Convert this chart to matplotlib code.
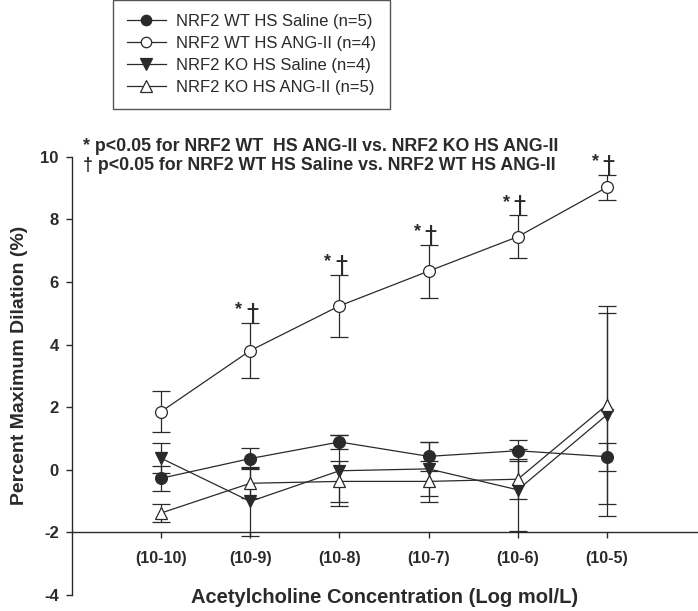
import matplotlib
matplotlib.use('Agg')
import matplotlib.pyplot as plt
from matplotlib.lines import Line2D
import numpy as np

plt.rcParams['font.family'] = ['Liberation Sans', 'DejaVu Sans']
plt.rcParams['axes.unicode_minus'] = False

conc = ['(10-10)', '(10-9)', '(10-8)', '(10-7)', '(10-6)', '(10-5)']

wt_saline = [-0.27, 0.36, 0.89, 0.43, 0.61, 0.42]
wt_saline_err = [0.40, 0.34, 0.22, 0.47, 0.34, 0.45]

wt_ang = [1.86, 3.81, 5.24, 6.35, 7.45, 9.03]
wt_ang_err = [0.65, 0.88, 1.00, 0.85, 0.68, 0.40]

ko_saline = [0.37, -1.01, -0.03, 0.03, -0.64, 1.76]
ko_saline_err = [0.48, 1.10, 1.14, 0.86, 1.32, 3.25]

ko_ang = [-1.38, -0.43, -0.37, -0.37, -0.30, 2.08]
ko_ang_err = [0.28, 0.48, 0.66, 0.65, 0.64, 3.17]

labels = ['NRF2 WT HS Saline (n=5)', 'NRF2 WT HS ANG-II (n=4)',
          'NRF2 KO HS Saline (n=4)', 'NRF2 KO HS ANG-II (n=5)']

# points with significance marks (index into conc)
sig_idx = [1, 2, 3, 4, 5]

dark = '#2a2a2a'

fig = plt.figure(figsize=(6.98, 6.11), dpi=100)
ax = fig.add_axes([0.103, 0.0262, 0.897, 0.717])

x = np.arange(len(conc))
series = [
    (wt_saline, wt_saline_err, 'o', dark, 8.5),
    (wt_ang, wt_ang_err, 'o', 'white', 8.5),
    (ko_saline, ko_saline_err, 'v', dark, 9),
    (ko_ang, ko_ang_err, '^', 'white', 9),
]
handles = []
for (y, e, m, fc, ms), lab in zip(series, labels):
    ax.errorbar(x, y, yerr=e, fmt='-', marker=m, ms=ms, mfc=fc, mec=dark,
                mew=0.9, color=dark, lw=0.9, ecolor=dark, elinewidth=0.9,
                capsize=6.5, capthick=0.9)
    handles.append(Line2D([], [], color=dark, lw=0.9, marker=m, ms=ms - 1,
                          mfc=fc, mec=dark, mew=0.9))

for i in sig_idx:
    top = wt_ang[i] + wt_ang_err[i]
    ax.text(x[i] + 0.02, top + 0.08, '\u2020', ha='center', va='baseline',
            fontsize=17.5, color=dark, family='DejaVu Sans')
    ax.text(x[i] - 0.13, top + 0.28, '*', ha='center', va='baseline',
            fontsize=13, fontweight='bold', color=dark)

ax.text(-0.874, 10.32, '* p<0.05 for NRF2 WT  HS ANG-II vs. NRF2 KO HS ANG-II',
        fontsize=12.75, fontweight='bold', color=dark, va='center')
ax.text(-0.874, 9.74, '\u2020 p<0.05 for NRF2 WT HS Saline vs. NRF2 WT HS ANG-II',
        fontsize=12.75, fontweight='bold', color=dark, va='center')

ax.set_xlim(-1.0, 6.02)
ax.set_ylim(-4, 10)
ax.set_yticks(np.arange(-4, 11, 2))
ax.set_xticks(x)
ax.set_xticklabels(conc)

ax.spines['top'].set_visible(False)
ax.spines['right'].set_visible(False)
ax.spines['bottom'].set_position(('data', -2))
for s in ['left', 'bottom']:
    ax.spines[s].set_color(dark)
    ax.spines[s].set_linewidth(1.0)

ax.tick_params(axis='y', direction='out', length=4.5, width=1, pad=5,
               labelsize=12, colors=dark)
ax.tick_params(axis='x', direction='out', length=4.5, width=1, pad=9,
               labelsize=11.5, colors=dark)
for t in ax.get_xticklabels() + ax.get_yticklabels():
    t.set_fontweight('bold')

ax.set_ylabel('Percent Maximum Dilation (%)', fontsize=14, fontweight='bold',
              color=dark, va='center')
ax.yaxis.set_label_coords(-0.083, 0.525)
ax.set_xlabel('Acetylcholine Concentration (Log mol/L)', fontsize=14.5,
              fontweight='bold', color=dark, va='center')
ax.xaxis.set_label_coords(0.5, -0.005)

leg = fig.legend(handles=handles, labels=labels, loc='upper left',
                 bbox_to_anchor=(113 / 698, 1.0), fontsize=12, frameon=True,
                 fancybox=False, edgecolor=dark, handlelength=2.3,
                 handletextpad=0.6, labelspacing=0.42, borderpad=0.85,
                 borderaxespad=0)
leg.get_frame().set_linewidth(1.0)
for t in leg.get_texts():
    t.set_color(dark)

fig.savefig('out.png', dpi=100)
